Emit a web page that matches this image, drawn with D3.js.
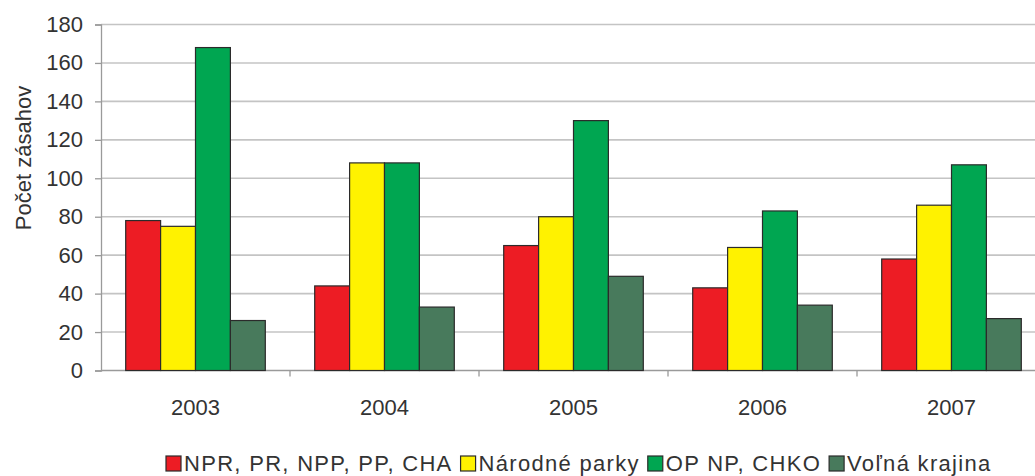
<!DOCTYPE html>
<html>
<head>
<meta charset="utf-8">
<script src="https://cdn.jsdelivr.net/npm/d3@7"></script>
<style>
  body { margin: 0; background: #fff; }
  svg { font-family: "Liberation Sans", Arial, sans-serif; }
</style>
</head>
<body>
<svg id="chart"></svg>
<script>
var years = ["2003", "2004", "2005", "2006", "2007"];
var seriesNames = ["NPR, PR, NPP, PP, CHA", "Národné parky", "OP NP, CHKO", "Voľná krajina"];
var seriesColors = ["#ed1c24", "#fff200", "#00a651", "#487a5c"];
var npr = [78, 44, 65, 43, 58];
var narodneParky = [75, 108, 80, 64, 86];
var opNp = [168, 108, 130, 83, 107];
var volnaKrajina = [26, 33, 49, 34, 27];
var yTicks = [0, 20, 40, 60, 80, 100, 120, 140, 160, 180];

var width = 1035;
var height = 476;
var allSeries = [npr, narodneParky, opNp, volnaKrajina];

var svg = d3.select("#chart")
  .attr("width", width)
  .attr("height", height);

var x0 = d3.scaleBand()
  .domain(years)
  .range([101, 1046]);

var x1 = d3.scaleBand()
  .domain(d3.range(seriesNames.length))
  .range([24.7, 189 - 24.7]);

var y = d3.scaleLinear()
  .domain([0, 180])
  .range([370.5, 24.5]);

// gridlines
svg.append("g")
  .selectAll("line")
  .data(yTicks.filter(d => d > 0))
  .enter()
  .append("line")
    .attr("x1", 101)
    .attr("x2", width)
    .attr("y1", d => y(d))
    .attr("y2", d => y(d))
    .attr("stroke", "#c4c4c4")
    .attr("stroke-width", 1.6);

// y axis
var yAxis = svg.append("g")
  .attr("transform", "translate(101,0)")
  .call(d3.axisLeft(y).tickValues(yTicks).tickSize(6).tickPadding(12));
yAxis.select(".domain").attr("stroke", "#9a9a9a").attr("stroke-width", 1.3);
yAxis.selectAll(".tick line").attr("stroke", "#9a9a9a").attr("stroke-width", 1.3);
yAxis.selectAll(".tick text")
  .attr("fill", "#333")
  .style("font-size", "22px")
  .style("font-family", "Liberation Sans, Arial, sans-serif");

// x axis baseline + category ticks
var xAxis = svg.append("g")
  .attr("transform", "translate(0," + y(0) + ")");
xAxis.append("line")
  .attr("x1", 101)
  .attr("x2", width)
  .attr("stroke", "#9a9a9a")
  .attr("stroke-width", 1.3);
xAxis.selectAll(".cat-tick")
  .data(years.slice(1))
  .enter()
  .append("line")
    .attr("x1", d => x0(d))
    .attr("x2", d => x0(d))
    .attr("y1", 0)
    .attr("y2", 6)
    .attr("stroke", "#9a9a9a")
    .attr("stroke-width", 1.3);
xAxis.selectAll(".cat-label")
  .data(years)
  .enter()
  .append("text")
    .attr("x", d => x0(d) + x0.bandwidth() / 2)
    .attr("y", 44)
    .attr("text-anchor", "middle")
    .attr("fill", "#333")
    .style("font-size", "22px")
    .text(d => d);

// bars
var groups = svg.append("g")
  .selectAll("g")
  .data(years)
  .enter()
  .append("g")
    .attr("transform", d => "translate(" + x0(d) + ",0)");

groups.selectAll("rect")
  .data((d, i) => allSeries.map((s, k) => ({ k: k, v: s[i] })))
  .enter()
  .append("rect")
    .attr("x", d => x1(d.k))
    .attr("y", d => y(d.v))
    .attr("width", x1.bandwidth())
    .attr("height", d => y(0) - y(d.v))
    .attr("fill", d => seriesColors[d.k])
    .attr("stroke", "#2b2b2b")
    .attr("stroke-width", 1.2);

// y title
svg.append("text")
  .attr("transform", "translate(31,158) rotate(-90)")
  .attr("text-anchor", "middle")
  .attr("fill", "#333")
  .style("font-size", "22px")
  .text("Počet zásahov");

// legend
var legend = svg.append("g")
  .attr("transform", "translate(0,471)");
var lx = 166;
seriesNames.forEach((name, i) => {
  legend.append("rect")
    .attr("x", lx)
    .attr("y", -15)
    .attr("width", 15)
    .attr("height", 15)
    .attr("fill", seriesColors[i])
    .attr("stroke", "#2b2b2b")
    .attr("stroke-width", 1.2);
  var t = legend.append("text")
    .attr("x", lx + 18)
    .attr("y", 0)
    .attr("fill", "#333")
    .style("font-size", "22px")
    .style("letter-spacing", "1.3px")
    .text(name);
  lx += 18 + t.node().getComputedTextLength() + 8;
});
</script>
</body>
</html>
